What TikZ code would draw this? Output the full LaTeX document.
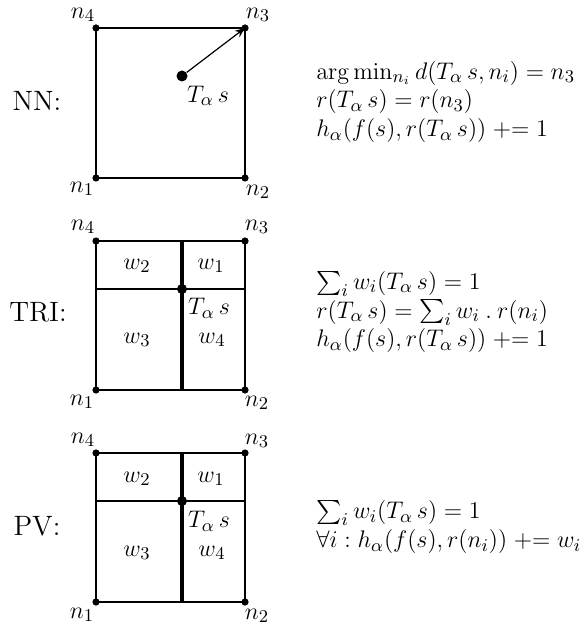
\documentclass[tikz,border=0pt]{standalone}
\usepackage{exscale}
\usetikzlibrary{arrows.meta}
\begin{document}
\begin{tikzpicture}[x=0.5pt,y=-0.5pt,
  every node/.style={font=\fontsize{12.5}{15}\selectfont},
  lbl/.style={font=\fontsize{14}{16}\selectfont},
  cdot/.style={circle,fill=black,inner sep=0pt,minimum size=3.6pt},
  bigdot/.style={circle,fill=black,inner sep=0pt,minimum size=5.5pt},
  middot/.style={circle,fill=black,inner sep=0pt,minimum size=5pt},
  edge/.style={line width=1.3pt},
  split/.style={line width=1.8pt},
  arr/.style={line width=0.6pt,-{Stealth[length=5pt,width=4pt]}},
  eqs/.style={anchor=west,inner sep=0pt,align=left,font=\fontsize{12.5}{14.4}\selectfont}]
\useasboundingbox (0,0) rectangle (582,624);
% ---------- NN ----------
\coordinate (A1) at (96,178); \coordinate (A2) at (245,178);
\coordinate (A3) at (245,28);  \coordinate (A4) at (96,28);
\draw[edge] (A1) -- (A2) -- (A3) -- (A4) -- cycle;
\node[cdot] (a1) at (A1) {}; \node[cdot] (a2) at (A2) {};
\node[cdot] (a3) at (A3) {}; \node[cdot] (a4) at (A4) {};
\node[bigdot] (ac) at (182,76) {};
\draw[arr] (ac) -- (A3);
\node (la4) at (83,15) {$n_4$}; \node (la3) at (258,15) {$n_3$};
\node (la1) at (82,189) {$n_1$}; \node (la2) at (258,192) {$n_2$};
\node (lat) at (208,96) {$T_\alpha\, s$};
\node[lbl] (nn) at (37,101) {NN:};
\node[eqs] (e) at (316,102) {$\arg\min_{n_i} d(T_\alpha\, s, n_i) = n_3$\\
  $r(T_\alpha\, s) = r(n_3)$\\
  $h_\alpha(f(s), r(T_\alpha\, s)) \mathrel{{+}{=}} 1$};
% ---------- TRI ----------
\coordinate (B1) at (96,390); \coordinate (B2) at (245,390);
\coordinate (B3) at (245,241); \coordinate (B4) at (96,241);
\coordinate (Bt) at (182,241); \coordinate (Bb) at (182,390);
\coordinate (Bl) at (96,289); \coordinate (Br) at (245,289);
\draw[edge] (B1) -- (B2) -- (B3) -- (B4) -- cycle;
\draw[edge] (Bl) -- (Br);
\draw[split] (Bt) -- (Bb);
\node[cdot] (b1) at (B1) {}; \node[cdot] (b2) at (B2) {};
\node[cdot] (b3) at (B3) {}; \node[cdot] (b4) at (B4) {};
\node[middot] (bc) at (182,289) {};
\node (lb4) at (83,227) {$n_4$}; \node (lb3) at (257,227) {$n_3$};
\node (lb1) at (82,402) {$n_1$}; \node (lb2) at (257,403) {$n_2$};
\node (bw2) at (137,266) {$w_2$}; \node (bw1) at (211,266) {$w_1$};
\node (bw3) at (137,340) {$w_3$}; \node (bw4) at (212,340) {$w_4$};
\node (lbt) at (209,308) {$T_\alpha\, s$};
\node[lbl] (tri) at (38,312) {TRI:};
\node[eqs] (f) at (316,312) {$\sum_i w_i(T_\alpha\, s) = 1$\\
  $r(T_\alpha\, s) = \sum_i w_i \mathbin{.} r(n_i)$\\
  $h_\alpha(f(s), r(T_\alpha\, s)) \mathrel{{+}{=}} 1$};
% ---------- PV ----------
\coordinate (C1) at (96,602); \coordinate (C2) at (245,602);
\coordinate (C3) at (245,453); \coordinate (C4) at (96,453);
\coordinate (Ct) at (182,453); \coordinate (Cb) at (182,602);
\coordinate (Cl) at (96,501); \coordinate (Cr) at (245,501);
\draw[edge] (C1) -- (C2) -- (C3) -- (C4) -- cycle;
\draw[edge] (Cl) -- (Cr);
\draw[split] (Ct) -- (Cb);
\node[cdot] (c1) at (C1) {}; \node[cdot] (c2) at (C2) {};
\node[cdot] (c3) at (C3) {}; \node[cdot] (c4) at (C4) {};
\node[middot] (cc) at (182,501) {};
\node (lc4) at (83,440) {$n_4$}; \node (lc3) at (257,441) {$n_3$};
\node (lc1) at (82,615) {$n_1$}; \node (lc2) at (257,616) {$n_2$};
\node (cw2) at (137,479) {$w_2$}; \node (cw1) at (211,479) {$w_1$};
\node (cw3) at (137,553) {$w_3$}; \node (cw4) at (212,553) {$w_4$};
\node (lct) at (209,521) {$T_\alpha\, s$};
\node[lbl] (pv) at (37,526) {PV:};
\node[eqs] (g) at (316,527) {$\sum_i w_i(T_\alpha\, s) = 1$\\
  $\forall i : h_\alpha(f(s), r(n_i)) \mathrel{{+}{=}} w_i$};
\end{tikzpicture}
\end{document}
